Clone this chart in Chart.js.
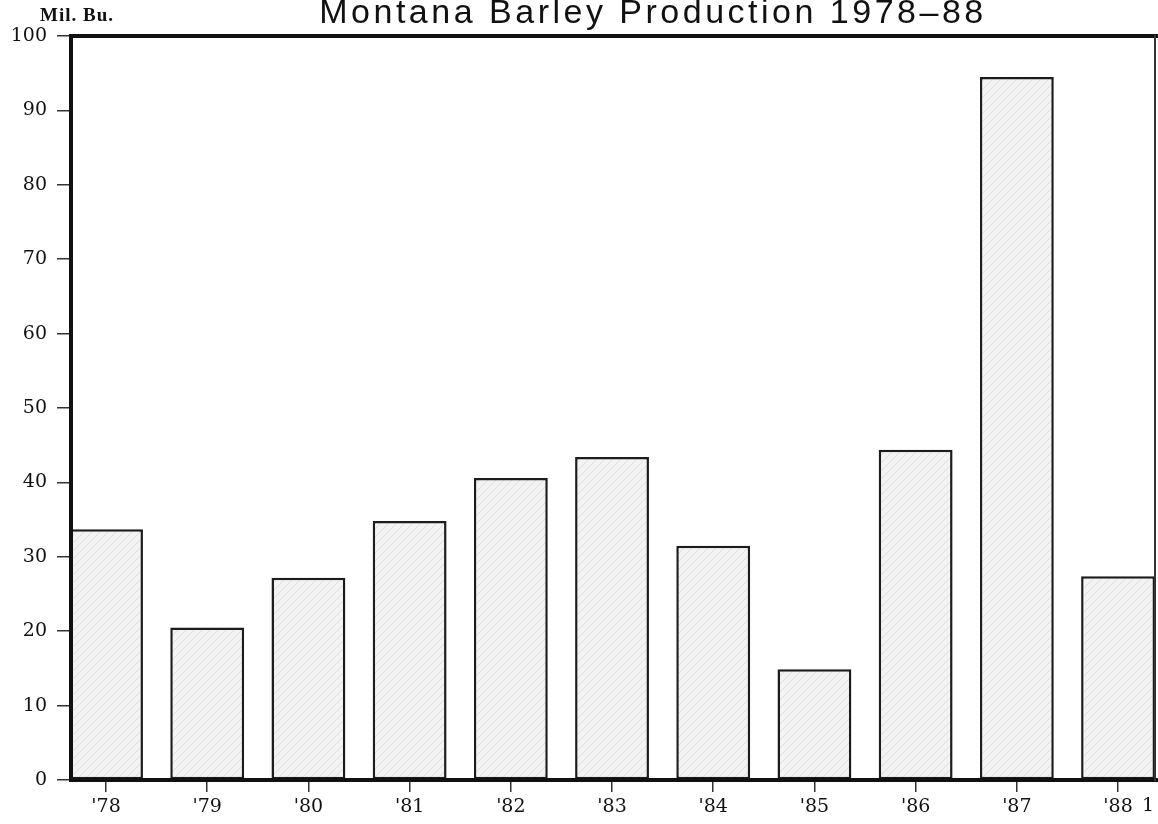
<!DOCTYPE html>
<html>
<head>
<meta charset="utf-8">
<script src="https://cdn.jsdelivr.net/npm/chart.js@4"></script>
<style>
  html, body { margin: 0; padding: 0; background: #fff; }
  #wrap { width: 1158px; height: 824px; }
</style>
</head>
<body>
<div id="wrap"><canvas id="canvas" width="1158" height="824"></canvas></div>
<script>
// years (x categories)
var years = ["'78", "'79", "'80", "'81", "'82", "'83", "'84", "'85", "'86", "'87", "'88"];
// production, million bushels
var production = [33.7, 20.5, 27.2, 34.8, 40.6, 43.4, 31.5, 14.9, 44.4, 94.5, 27.4];
// y axis
var yTicks = [0, 10, 20, 30, 40, 50, 60, 70, 80, 90, 100];
var chartTitle = "Montana Barley Production 1978\u201388";
var unitLabel = "Mil. Bu.";
var footMark = "1";

// light hatched fill like the old print
function hatch() {
    var c = document.createElement("canvas");
    c.width = 8; c.height = 8;
    var g = c.getContext("2d");
    g.fillStyle = "#f3f3f3";
    g.fillRect(0, 0, 8, 8);
    g.strokeStyle = "#dedede";
    g.lineWidth = 1;
    g.beginPath();
    g.moveTo(0, 8); g.lineTo(8, 0);
    g.moveTo(-1, 1); g.lineTo(1, -1);
    g.moveTo(7, 9); g.lineTo(9, 7);
    g.stroke();
    return g.createPattern(c, "repeat");
}

var frame = {
    id: "frame",
    afterDatasetsDraw: function(chart) {
        var a = chart.chartArea, ctx = chart.ctx;
        ctx.save();
        ctx.strokeStyle = "#111";
        ctx.lineCap = "square";
        ctx.lineWidth = 4;
        ctx.beginPath();
        ctx.moveTo(a.left, a.bottom); ctx.lineTo(a.left, a.top);
        ctx.lineTo(a.right, a.top);
        ctx.moveTo(a.left, a.bottom); ctx.lineTo(a.right, a.bottom);
        ctx.stroke();
        ctx.lineWidth = 2;
        ctx.strokeStyle = "#333";
        ctx.beginPath();
        ctx.moveTo(a.right - 1, a.top); ctx.lineTo(a.right - 1, a.bottom);
        ctx.stroke();
        ctx.restore();
    },
    afterDraw: function(chart) {
        var ctx = chart.ctx;
        ctx.save();
        ctx.fillStyle = "#111";
        ctx.textAlign = "center";
        ctx.textBaseline = "alphabetic";
        ctx.font = "34px 'Liberation Sans', Arial, sans-serif";
        if ('letterSpacing' in ctx) ctx.letterSpacing = "3.5px";
        ctx.fillText(chartTitle, 653, 23);
        if ('letterSpacing' in ctx) ctx.letterSpacing = "1px";
        ctx.textAlign = "left";
        ctx.font = "bold 19px 'Liberation Serif', serif";
        ctx.fillText(unitLabel, 40, 21);
        if ('letterSpacing' in ctx) ctx.letterSpacing = "0px";
        // footnote mark after last year label
        var xs = chart.scales.x;
        ctx.font = "19px 'DejaVu Serif', serif";
        ctx.textBaseline = "middle";
        ctx.fillText(footMark, xs.getPixelForValue(years.length - 1) + 24, 806);
        ctx.restore();
    }
};

window.onload = function() {
    var ctx = document.getElementById("canvas").getContext("2d");
    window.myBar = new Chart(ctx, {
        type: "bar",
        data: {
            datasets: [{
                data: production.map(function(v, i) { return { x: i, y: v }; }),
                backgroundColor: hatch(),
                borderColor: "#1c1c1c",
                borderWidth: 2.5,
                borderSkipped: false,
                categoryPercentage: 1,
                barPercentage: 0.73,
                clip: 0
            }]
        },
        options: {
            responsive: false,
            animation: false,
            layout: { padding: { top: 36, right: 2, left: 0, bottom: 0 } },
            plugins: {
                legend: { display: false },
                title: { display: false },
                tooltip: { enabled: false }
            },
            scales: {
                x: {
                    type: "linear",
                    offset: false,
                    min: -0.346,
                    max: 10.375,
                    border: { display: false },
                    grid: { offset: false, drawOnChartArea: false, drawTicks: true, tickLength: 12, color: "#333", lineWidth: 1.5 },
                    afterBuildTicks: function(s) {
                        s.ticks = years.map(function(y, i) { return { value: i }; });
                    },
                    ticks: {
                        autoSkip: false,
                        maxRotation: 0,
                        padding: 4,
                        color: "#111",
                        font: { family: "'DejaVu Serif', serif", size: 19 },
                        callback: function(v) { return years[v]; }
                    },
                    afterFit: function(s) { s.height = 44; }
                },
                y: {
                    min: 0,
                    max: 100,
                    border: { display: false },
                    grid: { drawOnChartArea: false, drawTicks: true, tickLength: 14, color: "#333", lineWidth: 1.5 },
                    afterBuildTicks: function(s) {
                        s.ticks = yTicks.map(function(v) { return { value: v }; });
                    },
                    ticks: {
                        padding: 10,
                        color: "#111",
                        font: { family: "'DejaVu Serif', serif", size: 19 }
                    },
                    afterFit: function(s) { s.width = 71; }
                }
            }
        },
        plugins: [frame]
    });
};
</script>
</body>
</html>
